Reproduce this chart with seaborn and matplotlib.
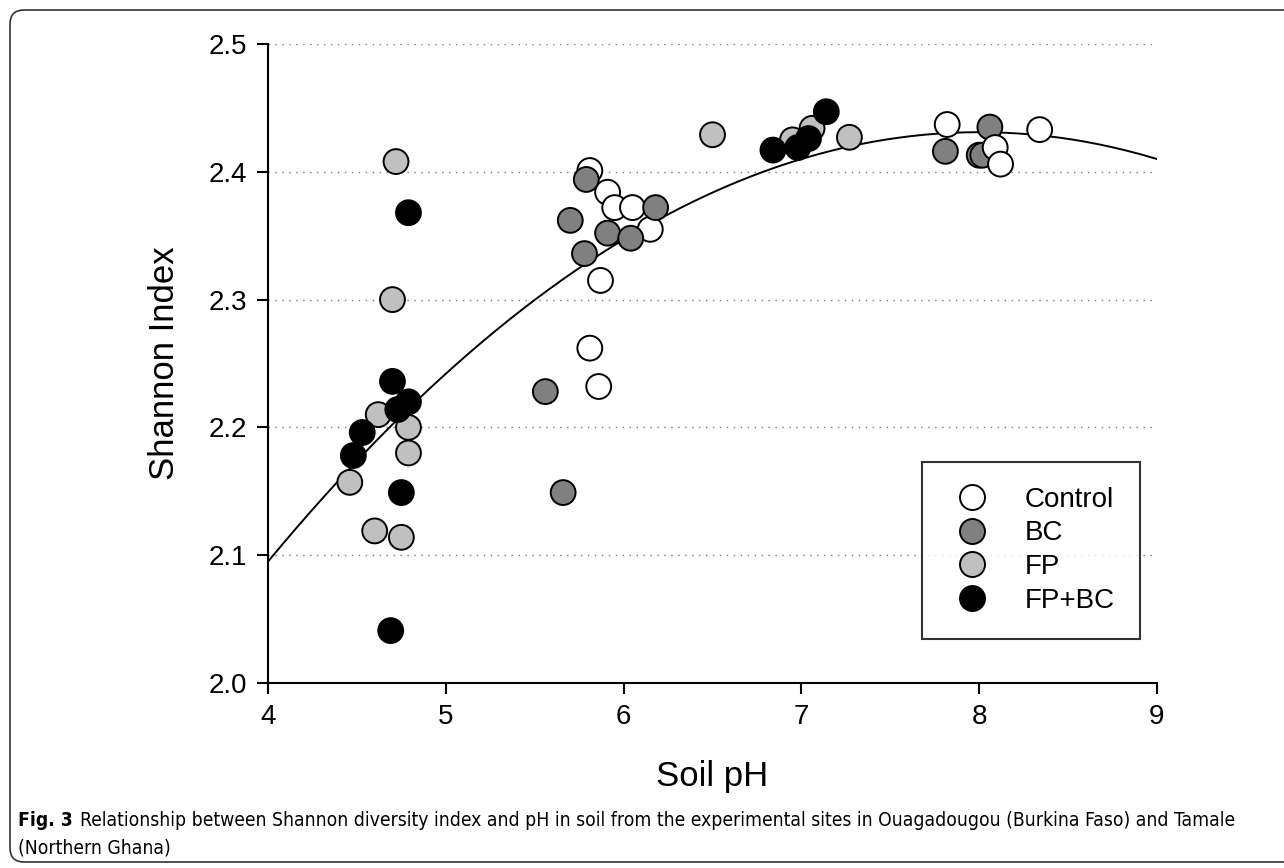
import numpy as np
import pandas as pd
import matplotlib
matplotlib.use('Agg')
import matplotlib.pyplot as plt
from matplotlib.patches import FancyBboxPatch
import seaborn as sns

# soil pH / Shannon index values, per treatment
# (first 8 of each list: low-pH site, last 4: high-pH site)
control_ph = [5.81, 5.91, 5.95, 6.05, 6.15, 5.87, 5.81, 5.86, 7.82, 8.09, 8.12, 8.34]
control_h = [2.401, 2.384, 2.372, 2.372, 2.355, 2.315, 2.262, 2.232, 2.437, 2.419, 2.406, 2.433]

bc_ph = [5.79, 6.18, 5.70, 5.91, 6.04, 5.78, 5.56, 5.66, 7.81, 8.06, 8.00, 8.02]
bc_h = [2.394, 2.372, 2.362, 2.352, 2.348, 2.336, 2.228, 2.149, 2.416, 2.435, 2.413, 2.413]

fp_ph = [4.72, 4.70, 4.62, 4.79, 4.79, 4.46, 4.60, 4.75, 6.50, 6.95, 7.06, 7.27]
fp_h = [2.408, 2.300, 2.210, 2.200, 2.180, 2.157, 2.119, 2.114, 2.429, 2.425, 2.434, 2.427]

fpbc_ph = [4.79, 4.70, 4.79, 4.73, 4.53, 4.48, 4.75, 4.69, 6.84, 6.98, 7.04, 7.14]
fpbc_h = [2.368, 2.236, 2.220, 2.214, 2.196, 2.178, 2.149, 2.041, 2.417, 2.419, 2.426, 2.447]

treatments = ['Control', 'BC', 'FP', 'FP+BC']
colors = ['white', '#808080', '#c0c0c0', 'black']

# quadratic fit: y = peak - k * (pH - vertex)^2
fit_vertex = 8.0
fit_peak = 2.431
fit_k = 0.021

caption_bold = 'Fig. 3'
caption_line1 = ('Relationship between Shannon diversity index and pH in soil from the '
                 'experimental sites in Ouagadougou (Burkina Faso) and Tamale')
caption_line2 = '(Northern Ghana)'

series = {
    'Control': (control_ph, control_h),
    'BC': (bc_ph, bc_h),
    'FP': (fp_ph, fp_h),
    'FP+BC': (fpbc_ph, fpbc_h),
}
parts = []
for t in treatments:  # low-pH site rows
    x, y = series[t]
    parts.append(pd.DataFrame({'pH': x[:8], 'H': y[:8], 'Treatment': t}))
for t in ['BC', 'Control', 'FP', 'FP+BC']:  # high-pH site rows
    x, y = series[t]
    parts.append(pd.DataFrame({'pH': x[8:], 'H': y[8:], 'Treatment': t}))
df = pd.concat(parts, ignore_index=True)

sns.set_style('ticks')
plt.rcParams['font.family'] = ['Liberation Sans', 'DejaVu Sans']
plt.rcParams['text.color'] = 'black'
plt.rcParams['axes.labelcolor'] = 'black'
plt.rcParams['xtick.color'] = 'black'
plt.rcParams['ytick.color'] = 'black'

fig = plt.figure(figsize=(12.84, 8.68), dpi=100)
ax = fig.add_axes([268 / 1284, 1 - 683 / 868, (1157 - 268) / 1284, (683 - 44) / 868])

# fitted curve
curve_x = np.linspace(4, 9, 200)
curve_y = fit_peak - fit_k * (curve_x - fit_vertex) ** 2
sns.lineplot(x=curve_x, y=curve_y, color='black', linewidth=1.4, ax=ax, zorder=2)

sns.scatterplot(data=df, x='pH', y='H', hue='Treatment', hue_order=treatments,
                palette=dict(zip(treatments, colors)), s=320, edgecolor='black',
                linewidth=1.4, ax=ax, zorder=3)

ax.set_xlim(4, 9)
ax.set_ylim(2.0, 2.5)
ax.set_xticks([4, 5, 6, 7, 8, 9])
ax.set_yticks([2.0, 2.1, 2.2, 2.3, 2.4, 2.5])
ax.set_yticklabels(['2.0', '2.1', '2.2', '2.3', '2.4', '2.5'])
ax.yaxis.grid(True, linestyle=(0, (1, 4)), color='#777777', linewidth=1.0)
ax.set_axisbelow(True)
sns.despine(ax=ax)
for sp in ['left', 'bottom']:
    ax.spines[sp].set_linewidth(1.5)
    ax.spines[sp].set_color('black')
ax.tick_params(axis='both', direction='out', length=8, width=1.5, labelsize=20, pad=7,
               color='black', labelcolor='black')

ax.set_xlabel('Soil pH', fontsize=25, labelpad=22)
ax.set_ylabel('Shannon Index', fontsize=25, labelpad=20)

handles, labels = ax.get_legend_handles_labels()
for h in handles:
    h.set_markersize(18)
    h.set_markeredgecolor('black')
    h.set_markeredgewidth(1.4)
leg = ax.legend(handles, labels, loc='lower right', bbox_to_anchor=(0.981, 0.069),
                borderaxespad=0, fontsize=20, frameon=True, fancybox=False,
                edgecolor='black', handletextpad=0.97, labelspacing=0.28,
                borderpad=0.9, handlelength=1.85)
leg.get_frame().set_linewidth(1.5)

# rounded frame around the whole figure
frame = FancyBboxPatch((10, 6), 1320, 852, boxstyle='round,pad=0,rounding_size=14',
                       transform=None, facecolor='none', edgecolor='#333333',
                       linewidth=1.2)
fig.patches.append(frame)

# caption, sized so the first line ends where the reference's does
cap_kw = dict(family=['DejaVu Sans'], fontstretch='condensed', va='baseline')
cap_size = 13.5
target_right = 1230
t_bold = fig.text(18 / 1284, 1 - 826 / 868, caption_bold, fontsize=cap_size,
                  fontweight='bold', **cap_kw)
t_line1 = fig.text(0, 1 - 826 / 868, caption_line1, fontsize=cap_size, **cap_kw)
t_line2 = fig.text(18 / 1284, 1 - 854 / 868, caption_line2, fontsize=cap_size, **cap_kw)
for _ in range(5):
    fig.canvas.draw()
    bb = t_bold.get_window_extent()
    t_line1.set_x((bb.x1 + 7) / 1284)
    fig.canvas.draw()
    right = t_line1.get_window_extent().x1
    if abs(right - target_right) < 3:
        break
    cap_size *= (target_right - 18) / (right - 18)
    for t in (t_bold, t_line1, t_line2):
        t.set_fontsize(cap_size)
fig.canvas.draw()
t_line1.set_x((t_bold.get_window_extent().x1 + 7) / 1284)

fig.savefig('out.png', dpi=100)
